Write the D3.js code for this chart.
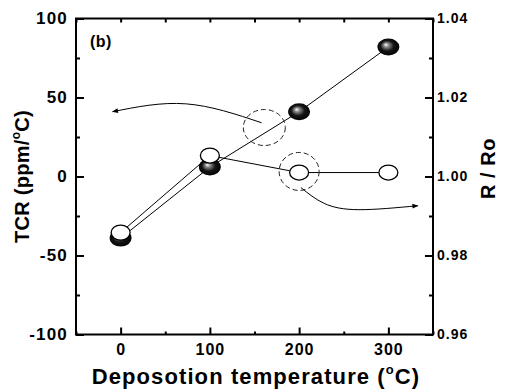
<!DOCTYPE html>
<html>
<head>
<meta charset="utf-8">
<script src="https://cdn.jsdelivr.net/npm/d3@7"></script>
<style>
  body { margin: 0; background: #fff; }
  text { font-family: "Liberation Sans", Arial, sans-serif; font-weight: bold; fill: #000; }
</style>
</head>
<body>
<div id="chart"></div>
<script>
// data
var temps = [0, 100, 200, 300];
var tcr = [-39, 6, 41, 82];              // filled spheres, left axis
var rRo = [0.9858, 1.0053, 1.001, 1.001]; // open circles, right axis
var xTicks = [0, 100, 200, 300];
var yLeftTicks = [-100, -50, 0, 50, 100];
var yRightTicks = [0.96, 0.98, 1.00, 1.02, 1.04];

// annotations in data units (temperature, TCR)
var arrowToLeft = [[158, 34], [73, 46], [-9, 41]];
var arrowToRight = [[202, -7], [228, -17], [267, -21], [333, -18.5]];
var dashCircles = [{x: 161, y: 31, rx: 21, ry: 18}, {x: 200, y: 3.2, rx: 20, ry: 19}];

var margin = {top: 18.5, left: 76, right: 72, bottom: 57.5};
var w = 505 - margin.left - margin.right,
    h = 392 - margin.top - margin.bottom;

var svg = d3.select("#chart").append("svg")
    .attr("width", 505).attr("height", 392);

var defs = svg.append("defs");
var grad = defs.append("radialGradient").attr("id", "ball")
    .attr("cx", "50%").attr("cy", "50%").attr("r", "55%")
    .attr("fx", "38%").attr("fy", "36%");
grad.append("stop").attr("offset", "0%").attr("stop-color", "#ffffff");
grad.append("stop").attr("offset", "22%").attr("stop-color", "#8a8a8a");
grad.append("stop").attr("offset", "55%").attr("stop-color", "#151515");
grad.append("stop").attr("offset", "100%").attr("stop-color", "#000");

defs.append("marker").attr("id", "head")
    .attr("viewBox", "0 0 10 10").attr("refX", 9).attr("refY", 5)
    .attr("markerWidth", 9).attr("markerHeight", 6)
    .attr("markerUnits", "userSpaceOnUse")
    .attr("orient", "auto")
    .append("path").attr("d", "M0,1 L10,5 L0,9 Z").attr("fill", "#000");

var chart = svg.append("g")
    .attr("transform", "translate(" + margin.left + "," + margin.top + ")");

var x = d3.scaleLinear().domain([-50, 350]).range([0, w]);
var yL = d3.scaleLinear().domain([-100, 100]).range([h, 0]);
var yR = d3.scaleLinear().domain([0.96, 1.04]).range([h, 0]);

// axes (ticks point inward)
function styleAxis(g) {
    g.select(".domain").remove();
    g.selectAll("line").attr("stroke", "#000").attr("stroke-width", 2);
}

chart.append("g").attr("transform", "translate(0," + h + ")")
    .call(d3.axisBottom(x).tickValues([-50, 50, 150, 250, 350]).tickSize(-3).tickFormat(""))
    .call(styleAxis);
chart.append("g").attr("transform", "translate(0," + h + ")")
    .call(d3.axisBottom(x).tickValues(xTicks).tickSize(-7).tickPadding(8).tickFormat(d => String(d)))
    .call(styleAxis)
    .selectAll("text").attr("font-size", 16).attr("letter-spacing", 1).attr("dy", "0.78em");

chart.append("g")
    .call(d3.axisTop(x).tickValues(d3.range(-50, 351, 50)).tickSize(-4).tickFormat(""))
    .call(styleAxis);

chart.append("g")
    .call(d3.axisLeft(yL).tickValues([-75, -25, 25, 75]).tickSize(-4).tickFormat(""))
    .call(styleAxis);
chart.append("g")
    .call(d3.axisLeft(yL).tickValues(yLeftTicks).tickSize(-8).tickPadding(8).tickFormat(d => String(d)))
    .call(styleAxis)
    .selectAll("text").attr("font-size", 17).attr("letter-spacing", 1.2);

chart.append("g").attr("transform", "translate(" + w + ",0)")
    .call(d3.axisRight(yR).tickValues([0.97, 0.99, 1.01, 1.03]).tickSize(-4).tickFormat(""))
    .call(styleAxis);
chart.append("g").attr("transform", "translate(" + w + ",0)")
    .call(d3.axisRight(yR).tickValues(yRightTicks).tickSize(-8).tickPadding(4).tickFormat(d3.format(".2f")))
    .call(styleAxis)
    .selectAll("text").attr("font-size", 14).attr("letter-spacing", 1);

// frame
chart.append("rect").attr("width", w).attr("height", h)
    .attr("fill", "none").attr("stroke", "#000").attr("stroke-width", 2);

// series lines
var lineL = d3.line().x((d, i) => x(temps[i])).y(d => yL(d));
var lineR = d3.line().x((d, i) => x(temps[i])).y(d => yR(d));
chart.append("path").attr("d", lineL(tcr)).attr("fill", "none").attr("stroke", "#000").attr("stroke-width", 1);
chart.append("path").attr("d", lineR(rRo)).attr("fill", "none").attr("stroke", "#000").attr("stroke-width", 1);

// annotations
chart.selectAll(".dc").data(dashCircles).enter().append("ellipse")
    .attr("cx", d => x(d.x)).attr("cy", d => yL(d.y))
    .attr("rx", d => d.rx).attr("ry", d => d.ry)
    .attr("fill", "none").attr("stroke", "#222").attr("stroke-width", 1)
    .attr("stroke-dasharray", "5,3");

var curve = d3.line().x(d => x(d[0])).y(d => yL(d[1])).curve(d3.curveNatural);
chart.append("path").attr("d", curve(arrowToLeft))
    .attr("fill", "none").attr("stroke", "#000").attr("stroke-width", 1)
    .attr("marker-end", "url(#head)");
chart.append("path").attr("d", curve(arrowToRight))
    .attr("fill", "none").attr("stroke", "#000").attr("stroke-width", 1)
    .attr("marker-end", "url(#head)");

// markers
chart.selectAll(".ball").data(tcr).enter().append("ellipse")
    .attr("cx", (d, i) => x(temps[i])).attr("cy", d => yL(d))
    .attr("rx", 11).attr("ry", 8.5)
    .attr("fill", "url(#ball)");
chart.selectAll(".open").data(rRo).enter().append("ellipse")
    .attr("cx", (d, i) => x(temps[i])).attr("cy", d => yR(d))
    .attr("rx", 9.5).attr("ry", 7.5)
    .attr("fill", "#fff").attr("stroke", "#000").attr("stroke-width", 1.3);

// panel label
chart.append("text").attr("x", 14).attr("y", 28)
    .attr("font-size", 16).attr("letter-spacing", 0.5).text("(b)");

// axis titles
var xt = svg.append("text").attr("x", 256).attr("y", 384)
    .attr("text-anchor", "middle").attr("font-size", 22).attr("letter-spacing", 1.1);
xt.append("tspan").text("Deposotion temperature (");
xt.append("tspan").attr("font-size", 13).attr("dy", -10).text("o");
xt.append("tspan").attr("dy", 10).text("C)");

var yt = svg.append("text")
    .attr("transform", "translate(29," + (margin.top + h / 2) + ") rotate(-90)")
    .attr("text-anchor", "middle").attr("font-size", 20).attr("letter-spacing", 0.3);
yt.append("tspan").text("TCR (ppm/");
yt.append("tspan").attr("font-size", 12).attr("dy", -9).text("o");
yt.append("tspan").attr("dy", 9).text("C)");

svg.append("text")
    .attr("transform", "translate(495," + (margin.top + h / 2 - 8) + ") rotate(-90)")
    .attr("text-anchor", "middle").attr("font-size", 20).attr("letter-spacing", 0.5)
    .text("R / Ro");
</script>
</body>
</html>
